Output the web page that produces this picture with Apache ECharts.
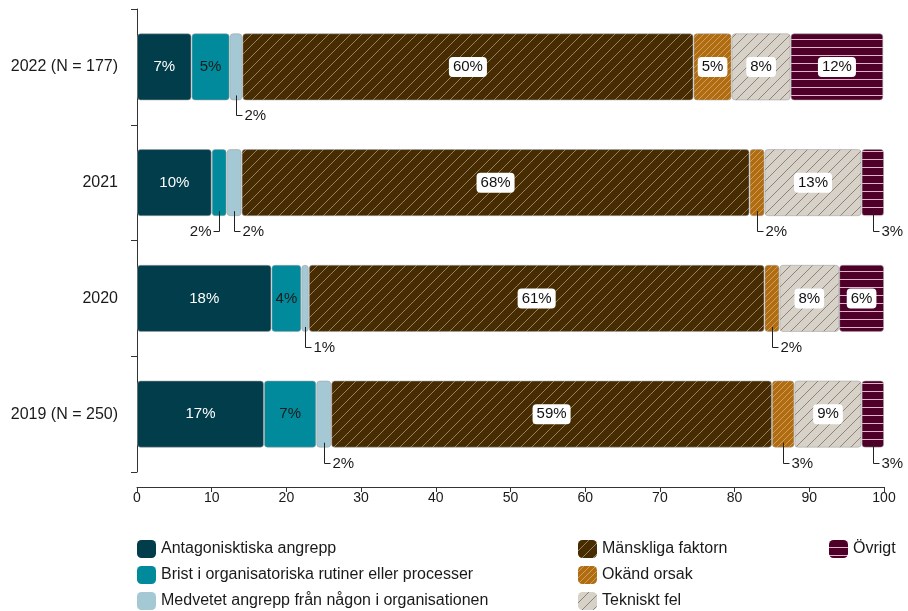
<!DOCTYPE html>
<html>
<head>
<meta charset="utf-8">
<script src="https://cdn.jsdelivr.net/npm/echarts@6/dist/echarts.min.js"></script>
<style>
  html, body { margin: 0; padding: 0; background: #fff; }
  #chart { width: 908px; height: 611px; }
</style>
</head>
<body>
<div id="chart"></div>
<script>
// Andel incidenter per orsak och år (procent)
const years = ['2022 (N = 177)', '2021', '2020', '2019 (N = 250)'];
const antagonistiska = [7.3, 10, 18, 17];
const brist = [5.1, 2, 4, 7];
const medvetet = [1.7, 2, 1, 2];
const manskliga = [60.4, 68, 61, 59];
const okand = [5.1, 2, 2, 3];
const tekniskt = [7.9, 13, 8, 9];
const ovrigt = [12.4, 3, 6, 3];
const xTicks = [0, 10, 20, 30, 40, 50, 60, 70, 80, 90, 100];

const FONT = '"Liberation Sans", Arial, sans-serif';
const SMALL = 3; // segments this small get an outside label with a leader line

// Fill patterns
function diagonal(bg, line, s, lw) {
  const c = document.createElement('canvas');
  c.width = s; c.height = s;
  const g = c.getContext('2d');
  g.fillStyle = bg; g.fillRect(0, 0, s, s);
  g.strokeStyle = line; g.lineWidth = lw;
  g.beginPath();
  g.moveTo(0, s); g.lineTo(s, 0);
  g.moveTo(-1, 1); g.lineTo(1, -1);
  g.moveTo(s - 1, s + 1); g.lineTo(s + 1, s - 1);
  g.stroke();
  return { image: c, repeat: 'repeat' };
}
function horizontal(bg, line, s) {
  const c = document.createElement('canvas');
  c.width = s; c.height = s;
  const g = c.getContext('2d');
  g.fillStyle = bg; g.fillRect(0, 0, s, s);
  g.fillStyle = line; g.fillRect(0, s - 1, s, 1);
  return { image: c, repeat: 'repeat' };
}

const boxLabel = { color: '#111', backgroundColor: '#fff', borderRadius: 4, padding: [3, 4, 2, 4] };

const groups = [
  { name: 'Antagonisktiska angrepp', values: antagonistiska, color: '#023d4c', label: { color: '#fff' } },
  { name: 'Brist i organisatoriska rutiner eller processer', values: brist, color: '#008a9b', label: { color: '#1a1a1a' } },
  { name: 'Medvetet angrepp från någon i organisationen', values: medvetet, color: '#a5c8d5', label: { color: '#1a1a1a' } },
  { name: 'Mänskliga faktorn', values: manskliga, color: diagonal('#462c00', '#9c8a72', 11, 0.9), label: boxLabel },
  { name: 'Okänd orsak', values: okand, color: diagonal('#b06c10', '#d6a163', 6, 0.9), label: boxLabel },
  { name: 'Tekniskt fel', values: tekniskt, color: diagonal('#d6d1c9', '#8b7863', 11, 0.9), label: boxLabel },
  { name: 'Övrigt', values: ovrigt, color: horizontal('#4e0029', '#e2b3cb', 8), label: boxLabel }
];

const BAR_FRAC = 0.58;

const barSeries = groups.map(gr => ({
  name: gr.name,
  type: 'bar',
  stack: 'total',
  barWidth: (BAR_FRAC * 100) + '%',
  itemStyle: { color: gr.color, borderRadius: 3, borderWidth: 1, borderColor: 'rgba(160,160,160,0.55)' },
  label: Object.assign({
    show: true, position: 'inside', fontSize: 15, fontFamily: FONT,
    formatter: p => Math.round(p.value) + '%'
  }, gr.label),
  emphasis: { disabled: true },
  data: gr.values.map(v => ({ value: v, label: { show: v > SMALL } }))
}));

// Outside labels for thin segments: [start, value, row, side]
// side -1 puts the label to the left when the next segment is also thin
const outside = [];
years.forEach((_, row) => {
  let start = 0;
  groups.forEach((gr, k) => {
    const v = gr.values[row];
    if (v <= SMALL) {
      const next = groups[k + 1] ? groups[k + 1].values[row] : Infinity;
      outside.push([start, v, row, next <= SMALL ? -1 : 1]);
    }
    start += v;
  });
});

const leaderSeries = {
  type: 'custom',
  name: 'leaders',
  silent: true,
  encode: { x: 0, y: 2 },
  data: outside,
  z: 5,
  renderItem: (params, api) => {
    const start = api.value(0), v = api.value(1), row = api.value(2), side = api.value(3);
    const c = api.coord([start + v / 2, row]);
    const band = api.size([0, 1])[1];
    const bottom = c[1] + band * BAR_FRAC / 2;
    const yl = Math.round(bottom + 15) + 0.5;
    const x = Math.round(c[0]) + 0.5;
    return {
      type: 'group',
      children: [
        { type: 'polyline', shape: { points: [[x, bottom - 5], [x, yl], [x + 6 * side, yl]] },
          style: { stroke: '#222', lineWidth: 1, fill: null } },
        { type: 'text', style: { x: x + 8 * side, y: yl, text: Math.round(v) + '%', fill: '#1a1a1a',
          font: '15px ' + FONT, verticalAlign: 'middle', align: side > 0 ? 'left' : 'right' } }
      ]
    };
  }
};

const legendBase = {
  orient: 'vertical', top: 540, padding: 0, itemGap: 8, itemWidth: 19, itemHeight: 18, icon: 'roundRect',
  itemStyle: { borderWidth: 0 },
  textStyle: { fontSize: 16, color: '#1a1a1a', fontFamily: FONT }, selectedMode: false
};

const chart = echarts.init(document.getElementById('chart'), null, { renderer: 'canvas' });
chart.setOption({
  animation: false,
  textStyle: { fontFamily: FONT },
  grid: { left: 137, right: 24, top: 9, bottom: 139 },
  xAxis: {
    type: 'value', min: 0, max: 100, interval: 10, offset: 15,
    axisLine: { show: true, lineStyle: { color: '#333', width: 1 } },
    axisTick: { show: true, length: 5, lineStyle: { color: '#333' } },
    axisLabel: { fontSize: 14, color: '#1a1a1a', margin: 4, formatter: v => xTicks.includes(v) ? String(v) : '' },
    splitLine: { show: false }
  },
  yAxis: {
    type: 'category', data: years, inverse: true, offset: 9,
    axisLine: { show: true, lineStyle: { color: '#333', width: 1 } },
    axisTick: { show: true, length: 6, lineStyle: { color: '#333' } },
    axisLabel: { fontSize: 16, color: '#1a1a1a', margin: 10 }
  },
  legend: [
    Object.assign({ left: 137, height: 80, data: groups.slice(0, 3).map(g => g.name) }, legendBase),
    Object.assign({ left: 578, height: 80, data: groups.slice(3, 6).map(g => g.name) }, legendBase),
    Object.assign({ left: 829, height: 80, data: groups.slice(6).map(g => g.name) }, legendBase)
  ],
  series: barSeries.concat([leaderSeries])
});
</script>
</body>
</html>
